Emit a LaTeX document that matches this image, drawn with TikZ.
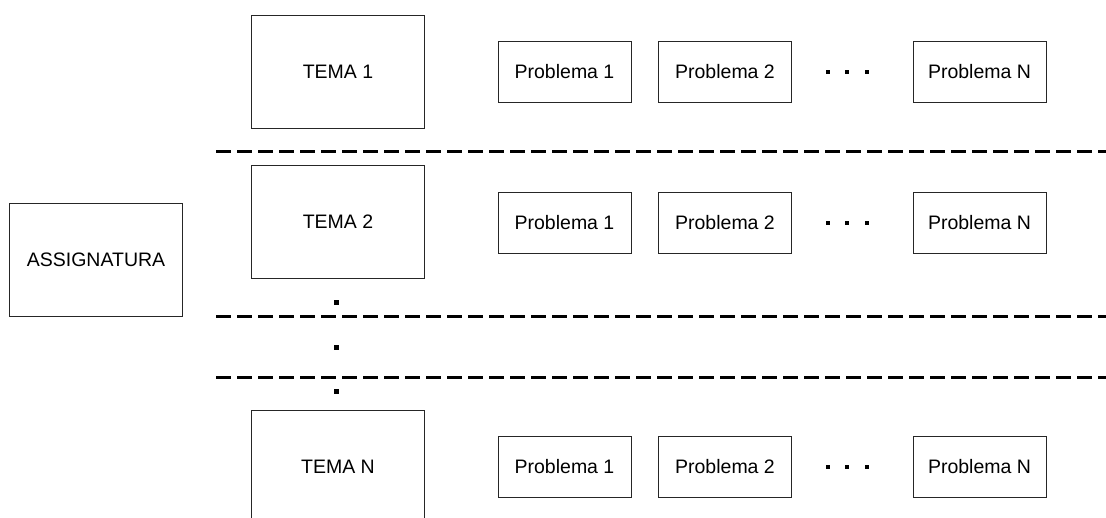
\documentclass[tikz,border=0pt]{standalone}
\usepackage{fontspec}
\setmainfont{Liberation Sans}
\begin{document}
\begin{tikzpicture}[x=1pt,y=-1pt,
  box/.style={draw=black!85, line width=0.9pt, inner sep=0pt, font=\fontsize{19.5}{23}\selectfont},
  tema/.style={box, minimum width=173pt, minimum height=113pt},
  prob/.style={box, minimum width=133pt, minimum height=61pt},
  sep/.style={line width=3pt, dash pattern=on 15pt off 6pt},
  bigdot/.style={fill=black, inner sep=0pt, minimum size=5pt},
  smalldot/.style={fill=black, inner sep=0pt, minimum size=4pt}]
\useasboundingbox (0,0) rectangle (1106,517);
\clip (0,0) rectangle (1106,517);
% main nodes
\node[tema] (assig) at (96,259.5) {ASSIGNATURA};
\node[tema] (t1) at (338,71.5) {TEMA 1};
\node[tema] (t2) at (338,222) {TEMA 2};
\node[tema] (tN) at (338,466.5) {TEMA N};
% problem rows
\node[prob] (p11) at (564.5,72) {Problema 1};
\node[prob] (p12) at (725,72) {Problema 2};
\node[prob] (p1N) at (979.5,72) {Problema N};
\node[prob] (p21) at (564.5,223) {Problema 1};
\node[prob] (p22) at (725,223) {Problema 2};
\node[prob] (p2N) at (979.5,223) {Problema N};
\node[prob] (p31) at (564.5,466.5) {Problema 1};
\node[prob] (p32) at (725,466.5) {Problema 2};
\node[prob] (p3N) at (979.5,466.5) {Problema N};
% horizontal ellipsis dots
\foreach \y/\r in {72/a,223/b,466.5/c}{
  \node[smalldot] (d\r1) at (828,\y) {};
  \node[smalldot] (d\r2) at (847,\y) {};
  \node[smalldot] (d\r3) at (867,\y) {};
}
% vertical ellipsis dots
\node[bigdot] (v1) at (336,302) {};
\node[bigdot] (v2) at (336,347) {};
\node[bigdot] (v3) at (336,391) {};
% separators
\coordinate (s1a) at (216,151); \coordinate (s1b) at (1106,151);
\coordinate (s2a) at (216,316); \coordinate (s2b) at (1106,316);
\coordinate (s3a) at (216,377); \coordinate (s3b) at (1106,377);
\draw[sep] (s1a) -- (s1b);
\draw[sep] (s2a) -- (s2b);
\draw[sep] (s3a) -- (s3b);
\end{tikzpicture}
\end{document}
